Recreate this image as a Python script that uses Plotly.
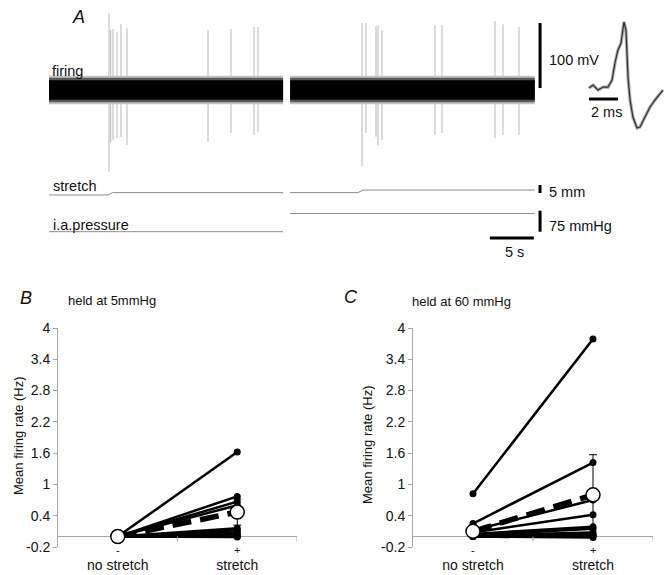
import plotly.graph_objects as go

W, H = 666, 575
FONT = "Liberation Sans, Arial, Helvetica, sans-serif"

# ---------------- Panel A data ----------------
seg1_t = [0.0, 26.6]          # s
seg2_t = [27.4, 55.2]         # s
noise_envelope_mV = [22, 19, 15]           # outer fuzz -> dense core
noise_colors = ["#c4c4c4", "#5a5a5a", "#000000"]
spike_t = [6.82, 7.01, 7.27, 7.73, 8.18, 8.86, 18.07, 20.68, 23.30, 23.75,
           35.57, 36.02, 37.16, 37.39, 37.84, 43.86, 44.66, 50.68, 51.59, 53.41]
spike_top = [118, 92, 94, 89, 101, 95, 92, 94, 97, 97,
             103, 103, 98, 100, 92, 100, 100, 106, 101, 97]
spike_bottom = [-126, -81, -77, -74, -72, -85, -80, -66, -69, -65,
                -118, -66, -72, -85, -77, -69, -66, -74, -69, -69]
stretch1_t = [0.0, 6.7, 7.2, 26.6]
stretch1_mm = [0.0, 0.0, 1.5, 1.5]
stretch2_t = [27.4, 35.1, 35.7, 55.2]
stretch2_mm = [1.5, 1.5, 3.1, 3.1]
pressure1_t = [0.0, 26.6]
pressure1_mmHg = [5, 5]
pressure2_t = [27.4, 55.2]
pressure2_mmHg = [70, 70]
wave_ms = [0.00, 0.28, 0.62, 0.97, 1.31, 1.59, 1.79, 2.00, 2.21, 2.34, 2.41, 2.55,
           2.62, 2.69, 2.83, 3.03, 3.31, 3.52, 3.86, 4.21, 4.55, 4.90, 5.10]
wave_mV = [0, 4.6, -3.1, 1.5, 1.5, 12.3, 38.5, 58.5, 69.2, 86.2, 101.5, 89.2,
           58.5, 16.9, -18.5, -44.6, -61.5, -60, -44.6, -29.2, -18.5, -7.7, -3.1]

# ---------------- Panels B / C data ----------------
categories = ["no stretch", "stretch"]
cat_signs = ["-", "+"]
y_ticks = [-0.2, 0.4, 1, 1.6, 2.2, 2.8, 3.4, 4]
y_ticktext = ["-0.2", "0.4", "1", "1.6", "2.2", "2.8", "3.4", "4"]

B_no_stretch = [0.0, 0.0, 0.0, 0.0, 0.0, 0.0, 0.0, 0.0, 0.0, 0.0]
B_stretch = [1.62, 0.77, 0.67, 0.60, 0.16, 0.12, 0.08, 0.04, 0.0, -0.01]
B_mean = [0.0, 0.47]
B_err = [0.0, 0.25]

C_no_stretch = [0.82, 0.25, 0.12, 0.08, 0.05, 0.03, 0.02, 0.0, 0.0, 0.0]
C_stretch = [3.79, 1.42, 0.70, 0.42, 0.19, 0.15, 0.08, 0.04, 0.0, -0.02]
C_mean = [0.10, 0.80]
C_err = [0.0, 0.77]


def px(x):
    return x / W


def py(y):
    return 1 - y / H


# pixel mapping of panel A axes (styling)
T_PX0, T_SCALE = 49, 8.8          # px at t=0, px per s
F_PX0, F_SCALE = 90, 0.65         # firing baseline px, px per mV
S_PX0, S_SCALE = 195, 1.6         # stretch
P_PX0, P_SCALE = 233.1, 0.28      # pressure
W_PX0, W_XSCALE = 589, 14.5       # waveform ms
WV_PX0 = 88

fig = go.Figure()

# ---- firing spikes ----
sx, sy = [], []
for t, a, b in zip(spike_t, spike_top, spike_bottom):
    sx += [t, t, None]
    sy += [a, b, None]
fig.add_trace(go.Scatter(x=sx, y=sy, mode="lines", xaxis="x3", yaxis="y3",
                         line=dict(color="#b8b8b8", width=1), hoverinfo="skip"))
# ---- noise band ----
for seg in (seg1_t, seg2_t):
    for amp, col in zip(noise_envelope_mV, noise_colors):
        fig.add_trace(go.Scatter(x=[seg[0], seg[1], seg[1], seg[0]],
                                 y=[amp, amp, -amp, -amp], mode="lines",
                                 fill="toself", fillcolor=col, line=dict(width=0),
                                 xaxis="x3", yaxis="y3", hoverinfo="skip"))
# ---- stretch / pressure ----
for tt, vv in ((stretch1_t, stretch1_mm), (stretch2_t, stretch2_mm)):
    fig.add_trace(go.Scatter(x=tt, y=vv, mode="lines", xaxis="x3", yaxis="y4",
                             line=dict(color="#8c8c8c", width=1), hoverinfo="skip"))
for tt, vv in ((pressure1_t, pressure1_mmHg), (pressure2_t, pressure2_mmHg)):
    fig.add_trace(go.Scatter(x=tt, y=vv, mode="lines", xaxis="x3", yaxis="y5",
                             line=dict(color="#8c8c8c", width=1), hoverinfo="skip"))
# ---- spike waveform ----
fig.add_trace(go.Scatter(x=wave_ms, y=wave_mV, mode="lines", xaxis="x4", yaxis="y6",
                         line=dict(color="#a8a8a8", width=3.2), hoverinfo="skip"))
fig.add_trace(go.Scatter(x=wave_ms, y=wave_mV, mode="lines", xaxis="x4", yaxis="y6",
                         line=dict(color="#333333", width=1.2), hoverinfo="skip"))

# ---- panels B and C ----
for xa, ya, ns, st, mean, err in (("x", "y", B_no_stretch, B_stretch, B_mean, B_err),
                                  ("x2", "y2", C_no_stretch, C_stretch, C_mean, C_err)):
    lx, ly = [], []
    for a, b in zip(ns, st):
        lx += [0, 1, None]
        ly += [a, b, None]
    fig.add_trace(go.Scatter(x=lx, y=ly, mode="lines+markers", xaxis=xa, yaxis=ya,
                             line=dict(color="black", width=2.5),
                             marker=dict(color="black", size=7), hoverinfo="skip"))
    fig.add_trace(go.Scatter(x=[0, 1], y=mean, mode="lines", xaxis=xa, yaxis=ya,
                             line=dict(color="black", width=5.5, dash="19px,9px"),
                             hoverinfo="skip"))
    fig.add_trace(go.Scatter(x=[0, 1], y=mean, mode="markers", xaxis=xa, yaxis=ya,
                             marker=dict(color="white", size=14,
                                         line=dict(color="black", width=1.5)),
                             error_y=dict(type="data", array=err, color="black",
                                          thickness=1, width=4),
                             hoverinfo="skip"))

axis_gray = "#a6a6a6"
common_x = dict(range=[-0.5, 1.5], tickvals=[0, 1], ticktext=categories,
                showline=False, ticks="", showgrid=False, zeroline=False,
                tickfont=dict(size=14, family=FONT, color="#111"),
                ticklabelstandoff=8, automargin=False, fixedrange=True)
common_y = dict(range=[-0.2, 4], tickvals=y_ticks, ticktext=y_ticktext,
                showline=True, linecolor=axis_gray, linewidth=1,
                ticks="outside", ticklen=4, tickcolor=axis_gray,
                showgrid=False, zeroline=True, zerolinecolor=axis_gray,
                zerolinewidth=1, tickfont=dict(size=14, family=FONT, color="#111"),
                automargin=False, fixedrange=True)
ydom = [py(547), py(328)]

hidden = dict(visible=False, fixedrange=True, automargin=False)
fig.update_layout(
    width=W, height=H, autosize=False,
    margin=dict(l=0, r=0, t=0, b=0, pad=0, autoexpand=False),
    paper_bgcolor="white", plot_bgcolor="rgba(0,0,0,0)",
    showlegend=False,
    font=dict(family=FONT, size=14, color="#111"),
    xaxis=dict(domain=[px(58), px(297)], anchor="y", **common_x),
    yaxis=dict(domain=ydom, anchor="x", **common_y),
    xaxis2=dict(domain=[px(413), px(653)], anchor="y2", **common_x),
    yaxis2=dict(domain=ydom, anchor="x2", **common_y),
    xaxis3=dict(domain=[0, 1], anchor="y3",
                range=[-T_PX0 / T_SCALE, (W - T_PX0) / T_SCALE], **hidden),
    yaxis3=dict(domain=[0, 1], anchor="x3",
                range=[(F_PX0 - H) / F_SCALE, F_PX0 / F_SCALE], **hidden),
    yaxis4=dict(overlaying="y3", anchor="x3",
                range=[(S_PX0 - H) / S_SCALE, S_PX0 / S_SCALE], **hidden),
    yaxis5=dict(overlaying="y3", anchor="x3",
                range=[(P_PX0 - H) / P_SCALE, P_PX0 / P_SCALE], **hidden),
    xaxis4=dict(domain=[0, 1], anchor="y6",
                range=[-W_PX0 / W_XSCALE, (W - W_PX0) / W_XSCALE], **hidden),
    yaxis6=dict(domain=[0, 1], anchor="x4",
                range=[(WV_PX0 - H) / F_SCALE, WV_PX0 / F_SCALE], **hidden),
)

bar = dict(color="black", width=3)
shapes = [
    dict(type="line", xref="x3", yref="y3", x0=55.8, x1=55.8, y0=3, y1=103, line=bar),
    dict(type="line", xref="x3", yref="y4", x0=55.8, x1=55.8, y0=1.25, y1=6.25, line=bar),
    dict(type="line", xref="x3", yref="y5", x0=55.8, x1=55.8, y0=5, y1=80, line=bar),
    dict(type="line", xref="x3", yref="paper", x0=50.1, x1=55.1, y0=py(238), y1=py(238), line=bar),
    dict(type="line", xref="x4", yref="paper", x0=0, x1=2, y0=py(99), y1=py(99), line=bar),
]
for xa, ya in (("x", "y"), ("x2", "y2")):
    for xv in (0.5, 1.5):
        shapes.append(dict(type="line", xref=xa, yref=ya, x0=xv, x1=xv, y0=0, y1=-0.09,
                           line=dict(color=axis_gray, width=1)))
fig.update_layout(shapes=shapes)


def ann(text, x, y, size=14, xanchor="left", angle=0, italic=False):
    if italic:
        text = "<i>" + text + "</i>"
    return dict(text=text, x=px(x), y=py(y), xref="paper", yref="paper",
                xanchor=xanchor, yanchor="middle", showarrow=False,
                textangle=angle, font=dict(size=size, family=FONT, color="#111"))


annotations = [
    ann("A", 78, 17, size=18, xanchor="center", italic=True),
    ann("firing", 50, 71, size=14.5),
    ann("stretch", 51, 186, size=14.5),
    ann("i.a.pressure", 51, 225, size=14.5),
    ann("100 mV", 547, 60, size=14.5),
    ann("5 mm", 547, 192, size=14.5),
    ann("75 mmHg", 547, 226, size=14.5),
    ann("5 s", 514, 252, size=14.5, xanchor="center"),
    ann("2 ms", 589, 112, size=14.5),
    ann("B", 26, 298, size=18, xanchor="center", italic=True),
    ann("held at 5mmHg", 66, 300, size=13),
    ann("C", 351, 297, size=18, xanchor="center", italic=True),
    ann("held at 60 mmHg", 410, 301, size=13),
    ann("Mean firing rate (Hz)", 18, 436, size=13, xanchor="center", angle=-90),
    ann("Mean firing rate (Hz)", 367, 445, size=13, xanchor="center", angle=-90),
]
for xa in ("x", "x2"):
    for i, s in enumerate(cat_signs):
        annotations.append(dict(text=s, x=i, y=py(550), xref=xa, yref="paper",
                                xanchor="center", yanchor="middle", showarrow=False,
                                font=dict(size=11, family=FONT, color="#111")))
fig.update_layout(annotations=annotations)

fig.write_html("out.html", config={"displayModeBar": False, "staticPlot": True},
               post_script="document.body.style.margin='0';")
